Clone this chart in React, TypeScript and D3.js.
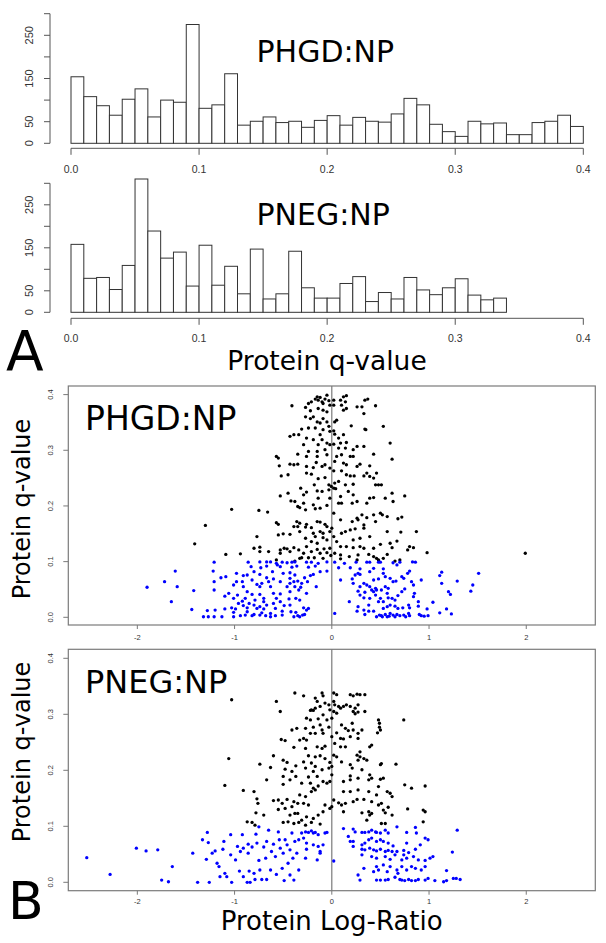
import React from 'react';
import * as d3 from 'd3';

// ---------- DATA ----------
const binWidth = 0.01;
const phgdCounts = [154,108,87,65,102,126,61,100,95,275,81,89,161,42,51,61,48,51,37,53,64,42,60,51,49,68,104,89,44,27,16,51,45,47,20,20,48,51,65,39];
const pnegCounts = [158,79,81,53,109,310,189,126,140,61,156,63,107,43,147,31,43,142,57,33,33,67,83,25,46,31,81,52,41,57,78,40,29,33];
const histXTicks = [0, 0.1, 0.2, 0.3, 0.4];
const histYTicks = [0, 50, 100, 150, 200, 250, 300];
const histYLabelTicks = [0, 50, 150, 250];
const scatterXTicks = [-2, -1, 0, 1, 2];
const scatterYTicks = [0, 0.1, 0.2, 0.3, 0.4];
const qThreshold = 0.1;

// [log-ratio, q-value]
const phgdPoints: [number, number][] = [
  [-0.41,.380],[-0.27,.377],[-0.24,.384],[-0.21,.387],[-0.17,.392],[-0.15,.396],[-0.14,.390],[-0.12,.395],[-0.10,.387],[-0.09,.384],[-0.07,.392],[-0.05,.399],[-0.03,.389],[-0.02,.381],[-0.14,.375],[-0.09,.372],[-0.05,.369],[-0.22,.371],
  [-0.27,.360],[-0.22,.357],[-0.19,.360],[-0.15,.351],[-0.12,.349],[-0.09,.357],[-0.05,.351],[-0.24,.340],[-0.31,.338],[-0.17,.340],[-0.09,.337],[-0.03,.343],[-0.02,.334],[-0.39,.328],[-0.43,.325],[-0.34,.328],[-0.12,.328],
  [-0.26,.322],[-0.19,.319],[-0.10,.319],[-0.05,.313],[-0.14,.310],[-0.02,.310],[-0.07,.301],[-0.15,.298],[-0.24,.298],[-0.29,.310],
  [-0.57,.289],[-0.55,.286],[-0.35,.293],[-0.26,.289],[-0.15,.289],[-0.05,.292],
  [-0.54,.272],[-0.43,.275],[-0.39,.274],[-0.35,.275],[-0.26,.271],[-0.19,.269],[-0.10,.271],[-0.16,.278],[-0.07,.274],[-0.02,.268],
  [-0.52,.254],[-0.45,.256],[-0.26,.259],[-0.21,.257],[-0.14,.249],[-0.07,.251],[-0.03,.238],[-0.005,.235],
  [-0.32,.232],[-0.26,.225],[-0.18,.238],[-0.15,.227],[-0.10,.226],[-0.03,.229],[-0.29,.220],[-0.14,.214],[-0.02,.214],
  [-0.53,.218],[-0.45,.223],[-0.42,.209],[-0.38,.208],[-0.35,.199],[-0.29,.205],[-0.19,.202],[-0.17,.195],[-0.12,.196],[-0.05,.201],[-0.27,.193],[-0.75,.192],[-0.66,.189],[-1.03,.194],[-0.33,.197],
  [-0.57,.170],[-0.55,.167],[-0.36,.172],[-0.33,.169],[-0.26,.167],[-0.15,.172],[-0.12,.171],[-0.07,.167],[-0.05,.163],[-0.39,.163],[-0.35,.163],[-0.27,.162],[-0.21,.161],[-0.12,.154],[-0.33,.154],[-0.19,.151],[-0.09,.151],[-0.02,.154],[-1.30,.165],
  [-0.77,.145],[-0.55,.148],[-0.50,.150],[-0.43,.149],[-0.27,.142],[-0.17,.145],[-0.09,.143],[-0.05,.139],[-0.21,.136],[-0.15,.133],[-1.41,.132],
  [-0.80,.124],[-0.74,.126],[-0.53,.121],[-0.49,.124],[-0.46,.123],[-0.39,.125],[-0.26,.127],[-0.34,.121],[-0.15,.122],[-0.08,.123],[-0.02,.124],[-0.94,.114],[-1.09,.113],[-0.74,.118],[-0.65,.118],[-0.53,.115],[-0.43,.118],[-0.29,.115],[-0.21,.118],[-0.12,.115],[-0.05,.116],
  [-0.33,.106],[-0.31,.107],[-0.24,.107],[-0.18,.107],[-0.09,.106],[-0.01,.111],[-0.57,.103],[-0.38,.101],
  [0.02,.390],[0.12,.396],[0.15,.398],[0.09,.390],[0.14,.387],[0.10,.381],[0.15,.375],[0.12,.372],[0.26,.378],[0.31,.378],[0.34,.390],[0.37,.392],[0.45,.380],[0.33,.366],[0.02,.381],
  [0.03,.351],[0.05,.354],[0.20,.344],[0.34,.338],[0.35,.337],[0.53,.343],[0.02,.335],
  [0.03,.329],[0.12,.328],[0.07,.322],[0.02,.311],[0.09,.313],[0.15,.314],[0.26,.307],[0.33,.307],[0.60,.313],[0.07,.304],[0.14,.304],[0.22,.301],
  [0.10,.292],[0.43,.293],[0.62,.284],[0.05,.289],[0.19,.289],[0.22,.289],[0.03,.280],[0.12,.277],[0.15,.274],[0.26,.271],[0.29,.275],[0.39,.272],
  [0.02,.263],[0.10,.263],[0.15,.256],[0.19,.254],[0.23,.254],[0.33,.254],[0.36,.259],[0.39,.253],[0.46,.259],[0.43,.250],[0.03,.241],[0.07,.244],[0.14,.238],[0.22,.239],[0.45,.238],[0.48,.238],[0.51,.238],
  [0.02,.232],[0.04,.231],[0.17,.226],[0.22,.220],[0.21,.205],[0.26,.208],[0.09,.217],[0.10,.205],[0.39,.214],[0.43,.215],[0.55,.214],[0.62,.223],[0.63,.208],[0.75,.218],[0.36,.205],[0.07,.205],
  [0.31,.184],[0.36,.179],[0.43,.184],[0.50,.187],[0.52,.184],[0.57,.181],[0.26,.178],[0.27,.175],[0.33,.166],[0.45,.172],[0.68,.177],[0.72,.180],[0.09,.175],[0.21,.172],[0.00,.160],[0.02,.187],
  [0.14,.154],[0.19,.157],[0.24,.159],[0.33,.160],[0.57,.154],[0.71,.153],[0.87,.154],[0.10,.151],[0.39,.145],[0.29,.142],[0.02,.145],[0.22,.139],
  [0.05,.136],[0.50,.131],[0.60,.133],[0.67,.137],[0.09,.127],[0.15,.127],[0.22,.125],[0.29,.127],[0.33,.124],[0.43,.124],[0.62,.125],[0.80,.127],[0.84,.125],[0.78,.121],[0.98,.116],
  [0.03,.115],[0.09,.112],[0.18,.109],[0.27,.112],[0.38,.113],[0.43,.109],[0.46,.106],[0.48,.103],[0.57,.113],[0.53,.106],[0.65,.101],[0.70,.103],[0.26,.103],[0.09,.105],[1.99,.115],
  [-1.21,.099],[-0.86,.099],[-0.74,.0995],[-0.67,.0995],[-0.63,.0995],[-0.57,.097],[-0.51,.099],[-0.46,.098],[-0.41,.099],[-0.38,.0995],[-0.26,.099],[-0.21,.099],[-0.14,.097],[-0.05,.0995],
  [-0.83,.091],[-0.73,.089],[-0.67,.092],[-0.56,.094],[-0.53,.091],[-0.41,.090],[-0.36,.092],[-0.24,.090],[-0.17,.092],
  [-1.61,.083],[-1.22,.083],[-0.98,.079],[-0.91,.075],[-0.87,.076],[-0.80,.082],[-0.74,.077],[-0.61,.082],[-0.50,.079],[-0.43,.080],[-0.38,.076],[-0.22,.075],[-0.19,.077],[-0.12,.082],[-0.05,.083],[-0.67,.071],[-0.43,.070],[-0.28,.071],[-0.60,.069],
  [-1.72,.064],[-1.14,.071],[-1.09,.073],[-1.21,.064],[-0.98,.064],[-0.92,.064],[-0.82,.067],[-0.77,.059],[-0.72,.061],[-0.65,.064],[-0.53,.064],[-0.43,.061],[-0.39,.064],[-0.35,.065],[-0.31,.061],[-0.25,.064],[-0.16,.055],[-1.59,.055],[-1.90,.054],[-1.42,.048],[-1.01,.058],[-0.91,.055],[-0.74,.055],[-0.63,.055],[-0.46,.055],[-0.38,.055],[-0.32,.054],
  [-1.21,.049],[-1.06,.043],[-0.97,.040],[-0.87,.046],[-0.82,.041],[-0.74,.041],[-0.60,.043],[-0.53,.042],[-0.43,.046],[-0.34,.049],[-0.26,.043],[-1.10,.038],[-1.01,.034],[-0.89,.034],[-0.79,.031],[-0.70,.034],[-0.57,.034],[-0.44,.033],[-0.37,.034],[-0.33,.031],[-0.70,.028],[-0.92,.029],[-1.65,.028],
  [-0.96,.025],[-0.91,.021],[-0.85,.025],[-0.80,.022],[-0.74,.019],[-0.67,.022],[-0.60,.025],[-0.53,.028],[-0.49,.021],[-0.43,.022],[-0.29,.017],[-0.24,.016],[-1.03,.017],[-0.99,.015],[-0.87,.017],[-0.77,.016],[-0.70,.015],[-0.58,.016],[-1.44,.014],[-1.28,.012],[-1.20,.013],[-1.10,.015],[-0.26,.013],
  [-1.32,.001],[-1.27,.001],[-1.21,.001],[-1.13,.001],[-1.01,.001],[-0.94,.003],[-0.89,.004],[-0.82,.003],[-0.80,.005],[-0.74,.004],[-0.68,.003],[-0.63,.001],[-0.58,.003],[-0.51,.004],[-0.39,.001],[-0.35,.003],[-0.30,.004],[-0.28,.005],[-0.33,.001],[-1.01,.009],[-0.87,.010],[-0.72,.008],[-0.63,.007],[-0.51,.011],[-0.42,.010],[-0.37,.009],
  [0.03,.099],[0.13,.097],[0.25,.099],[0.36,.099],[0.39,.099],[0.48,.099],[0.50,.099],[0.63,.098],[0.67,.094],[0.70,.099],[0.83,.0995],[0.86,.099],
  [0.07,.089],[0.19,.089],[0.29,.087],[0.43,.088],[0.53,.087],[0.80,.083],[0.78,.079],[1.13,.081],[1.11,.075],[1.51,.079],[0.27,.079],[0.29,.077],[0.24,.076],[0.39,.082],[0.53,.079],[0.72,.073],[0.74,.070],[0.55,.073],[0.60,.070],
  [0.09,.067],[0.21,.069],[0.43,.067],[0.48,.069],[0.63,.064],[0.66,.065],[0.82,.064],[0.84,.058],[0.92,.067],[1.29,.065],[1.13,.061],[1.45,.058],[0.33,.061],[0.36,.058],[0.29,.055],[0.39,.055],[0.45,.052],[0.55,.055],[0.58,.052],[0.75,.051],[0.22,.061],
  [0.27,.047],[0.34,.045],[0.41,.049],[0.43,.046],[0.46,.049],[0.51,.049],[0.57,.043],[0.72,.046],[0.85,.043],[1.20,.046],[1.43,.047],[1.22,.041],[0.29,.040],[0.33,.035],[0.45,.040],[0.58,.035],[0.62,.034],[0.68,.039],[0.84,.037],[0.39,.034],[0.50,.034],[0.65,.031],
  [0.18,.028],[0.27,.019],[0.38,.022],[0.48,.028],[0.53,.028],[0.57,.019],[0.60,.022],[0.65,.020],[0.68,.016],[0.79,.022],[0.80,.017],[0.89,.028],[0.89,.020],[0.98,.015],[1.04,.027],[1.18,.015],[0.26,.011],[0.33,.013],[0.38,.011],[0.43,.011],[0.53,.016],[0.73,.017],
  [0.03,.007],[0.34,.005],[0.46,.001],[0.49,.004],[0.51,.003],[0.55,.005],[0.57,.001],[0.60,.007],[0.63,.004],[0.67,.005],[0.70,.003],[0.74,.004],[0.76,.001],[0.79,.007],[0.80,.003],[0.90,.005],[0.92,.003],[0.95,.002],[0.99,.003],[1.11,.008],[1.23,.006],[0.59,.002],[0.65,.001],[0.52,.001],
];

const pnegPoints: [number, number][] = [
  [-1.03,.326],[-0.57,.323],[-0.53,.305],[-0.38,.338],[-0.41,.272],[-0.36,.275],[-0.52,.255],[-0.48,.253],[-0.39,.241],[-0.60,.226],[-1.06,.221],[-0.50,.218],[-0.46,.214],[-0.74,.211],[-0.63,.205],[-0.48,.202],[-0.41,.198],[-0.37,.208],
  [-0.67,.183],[-0.50,.189],[-0.43,.183],[-0.37,.189],[-1.10,.173],[-0.91,.164],[-0.80,.162],[-0.50,.175],[-0.77,.149],[-0.76,.141],[-0.60,.146],[-0.55,.147],[-0.51,.141],[-0.46,.148],[-0.39,.144],[-0.35,.141],
  [-0.55,.130],[-0.48,.132],[-0.41,.135],[-0.35,.123],[-0.78,.124],[-0.70,.120],[-0.43,.120],[-0.38,.123],[-0.87,.108],[-0.82,.107],[-0.50,.107],[-0.45,.108],[-0.39,.105],[-0.34,.107],[-0.79,.102],
  [-0.29,.333],[-0.17,.329],[-0.10,.338],[-0.09,.333],[0.02,.338],[0.05,.335],[0.19,.335],[0.22,.333],[0.26,.336],[0.29,.335],[0.34,.335],
  [-0.15,.323],[-0.07,.320],[-0.03,.317],[0.02,.323],[0.03,.317],[0.07,.314],[0.09,.311],[0.12,.314],[0.15,.317],[0.19,.314],[0.24,.311],[0.27,.317],[-0.12,.314],[-0.21,.308],[-0.17,.311],[-0.02,.308],
  [-0.22,.307],[-0.19,.307],[0.02,.305],[0.05,.302],[0.22,.305],[0.24,.301],[0.27,.304],[0.34,.305],[-0.09,.299],[0.00,.293],[-0.05,.290],[-0.14,.292],[-0.22,.290],[-0.26,.293],
  [0.48,.290],[0.49,.284],[0.49,.277],[0.50,.272],[0.47,.267],[0.74,.290],
  [-0.27,.275],[-0.19,.277],[-0.12,.281],[-0.10,.272],[-0.03,.277],[0.10,.281],[0.14,.275],[0.17,.271],[0.21,.284],[0.22,.272],[0.27,.266],[0.31,.272],
  [-0.22,.266],[-0.17,.266],[-0.09,.266],[0.00,.260],[0.05,.267],[0.09,.257],[0.12,.256],[0.19,.260],[0.27,.257],[-0.26,.254],[-0.29,.257],
  [-0.15,.242],[-0.10,.239],[-0.07,.243],[0.09,.242],[0.14,.242],[0.03,.248],[0.39,.242],[0.41,.245],[-0.33,.254],[-0.27,.239],[0.29,.233],
  [-0.24,.226],[-0.17,.224],[-0.12,.226],[-0.07,.221],[0.02,.227],[0.05,.224],[0.26,.227],[0.29,.224],[0.33,.221],[0.27,.218],[0.36,.218],[0.50,.210],[0.51,.212],[0.66,.211],[-0.29,.215],[-0.21,.213],[-0.02,.214],[0.10,.215],
  [-0.27,.204],[-0.17,.207],[-0.10,.201],[-0.03,.204],[0.00,.207],[0.19,.210],[0.21,.204],[0.31,.201],[0.39,.192],[-0.19,.198],[-0.15,.189],[-0.24,.188],[0.00,.192],[0.19,.190],
  [-0.09,.180],[-0.05,.177],[-0.02,.180],[0.12,.180],[0.19,.183],[0.27,.186],[0.38,.183],[0.41,.186],[0.50,.184],[0.53,.186],[0.48,.171],[0.75,.174],[0.82,.168],[0.96,.172],[-0.19,.168],[-0.22,.177],[-0.31,.177],[-0.14,.172],
  [-0.21,.162],[-0.17,.165],[0.12,.162],[0.19,.162],[0.27,.165],[0.38,.162],[0.46,.156],[0.57,.162],[0.60,.159],[0.62,.153],[-0.33,.156],[-0.27,.153],[0.02,.147],[0.07,.142],[0.26,.148],
  [-0.29,.141],[-0.24,.138],[-0.07,.138],[0.00,.135],[0.10,.138],[0.14,.141],[0.22,.144],[0.33,.148],[0.48,.138],[0.51,.141],[0.58,.134],[0.41,.144],[0.78,.131],
  [-0.14,.120],[-0.09,.126],[-0.02,.132],[0.12,.126],[0.31,.124],[0.38,.126],[0.41,.123],[0.39,.120],[0.53,.129],[0.55,.124],[0.62,.120],[0.94,.129],[0.96,.126],[-0.19,.114],[-0.26,.117],[-0.31,.111],[0.36,.111],
  [0.51,.105],[0.55,.105],[0.94,.108],[-0.21,.107],[-0.12,.104],[-0.27,.102],
  [-2.52,.044],[-2.28,.014],[-2.01,.061],[-1.91,.056],[-1.79,.058],[-1.75,.004],[-1.68,.001],[-1.64,.028],[-1.43,.052],[-1.38,.000],[-1.33,.076],[-1.28,.089],[-1.27,.071],[-1.29,.041],[-1.26,.000],[-1.23,.052],[-1.20,.056],[-1.18,.034],[-1.16,.028],[-1.15,.010],[-1.12,.059],[-1.11,.073],[-1.10,.016],[-1.08,.010],
  [-1.04,.085],[-1.04,.049],[-1.03,.000],[-0.99,.040],[-0.97,.064],[-0.94,.055],[-0.95,.020],[-0.92,.085],[-0.91,.010],[-0.91,.061],[-0.87,.000],[-0.86,.052],[-0.86,.068],[-0.85,.020],[-0.84,.000],[-0.82,.063],[-0.80,.016],[-0.79,.005],[-0.78,.086],[-0.77,.070],[-0.75,.099],[-0.75,.039],[-0.74,.022],[-0.72,.005],
  [-0.70,.063],[-0.68,.043],[-0.67,.073],[-0.67,.005],[-0.65,.093],[-0.63,.022],[-0.62,.055],[-0.60,.068],[-0.58,.046],[-0.57,.014],[-0.55,.090],[-0.54,.076],[-0.53,.061],[-0.51,.025],[-0.50,.052],[-0.49,.003],[-0.48,.076],[-0.46,.067],[-0.45,.034],[-0.43,.013],[-0.43,.058],[-0.41,.088],[-0.40,.043],[-0.39,.004],[-0.38,.073],[-0.36,.052],[-0.34,.076],[-0.34,.022],
  [-0.31,.088],[-0.27,.090],[-0.24,.089],[-0.21,.092],[-0.19,.088],[-0.17,.089],[-0.14,.085],[-0.07,.088],[-0.05,.089],[0.12,.096],[0.22,.095],[0.24,.090],[0.31,.089],[0.34,.089],[0.38,.090],[0.41,.093],[0.45,.090],[0.46,.089],[0.50,.088],[0.55,.093],[0.58,.088],[0.67,.099],[0.77,.089],[0.86,.098],[0.87,.088],[0.96,.079],[0.99,.076],[1.29,.093],
  [-0.29,.079],[-0.26,.070],[-0.19,.067],[-0.14,.064],[-0.12,.052],[-0.09,.067],[0.17,.082],[0.19,.073],[0.22,.073],[0.31,.067],[0.34,.070],[0.38,.076],[0.41,.079],[0.46,.073],[0.50,.076],[0.53,.073],[0.58,.070],[0.63,.065],[0.77,.070],[0.91,.067],[0.86,.059],
  [0.31,.059],[0.34,.058],[0.39,.061],[0.43,.058],[0.46,.056],[0.50,.059],[0.55,.055],[0.58,.057],[0.62,.055],[0.67,.055],[0.74,.057],[0.79,.053],[0.22,.064],[1.24,.054],[-0.15,.040],[0.02,.038],[-0.27,.043],[-0.26,.059],[-0.12,.055],
  [0.31,.049],[0.41,.046],[0.46,.043],[0.55,.046],[0.60,.041],[0.65,.049],[0.72,.040],[0.77,.043],[0.84,.046],[0.89,.040],[0.96,.039],[1.01,.043],[1.04,.046],[0.74,.049],
  [0.33,.025],[0.46,.028],[0.48,.022],[0.53,.031],[0.60,.028],[0.67,.022],[0.72,.028],[0.77,.022],[0.82,.028],[0.86,.025],[0.92,.022],[0.96,.028],[1.18,.021],[0.43,.019],[0.57,.019],[0.27,.013],[0.68,.016],
  [0.29,.004],[0.46,.004],[0.50,.004],[0.55,.004],[0.58,.005],[0.65,.009],[0.70,.005],[0.72,.004],[0.75,.003],[0.79,.005],[0.82,.003],[0.86,.003],[0.89,.005],[0.96,.004],[0.99,.007],[1.06,.003],[1.15,.001],[1.18,.003],[1.25,.007],[1.28,.007],[1.32,.005],
];

// ---------- COMPONENTS ----------
const TITLE_FONT = '"DejaVu Sans", Verdana, sans-serif';
const TICK_FONT = '"Liberation Sans", Arial, Helvetica, sans-serif';

function Histogram({ counts, yZero, yTop, axisY, tickLabelY, title, titleY }: any) {
  const x = d3.scaleLinear().domain([0, 0.4]).range([71, 583.3]);
  const y = d3.scaleLinear().domain([0, 300]).range([yZero, yTop]);
  const axisX = 50;
  return (
    <g>
      {counts.map((c: number, i: number) => (
        <rect key={i} x={x(i * binWidth)} y={y(c)} width={x((i + 1) * binWidth) - x(i * binWidth)} height={y(0) - y(c)}
          fill="#fff" stroke="#333" strokeWidth={1} />
      ))}
      <line x1={x(0)} x2={x(0.4)} y1={axisY} y2={axisY} stroke="#555" strokeWidth={1} />
      {histXTicks.map(t => (
        <g key={t}>
          <line x1={x(t)} x2={x(t)} y1={axisY} y2={axisY + 6.5} stroke="#555" strokeWidth={1} />
          <text x={x(t)} y={tickLabelY} textAnchor="middle" fontFamily={TICK_FONT} fontSize={10.5} fill="#333">{t.toFixed(1)}</text>
        </g>
      ))}
      <line x1={axisX} x2={axisX} y1={y(0)} y2={y(300)} stroke="#555" strokeWidth={1} />
      {histYTicks.map(t => (
        <line key={t} x1={axisX - 6} x2={axisX} y1={y(t)} y2={y(t)} stroke="#555" strokeWidth={1} />
      ))}
      {histYLabelTicks.map(t => (
        <text key={t} transform={`translate(33,${y(t)}) rotate(-90)`} textAnchor="middle" fontFamily={TICK_FONT} fontSize={11} fill="#333">{t}</text>
      ))}
      <text x={256.5} y={titleY} fontFamily={TITLE_FONT} fontSize={30} fill="#000">{title}</text>
    </g>
  );
}

function Scatter({ points, top, bottom, yZero, yFour, tickLabelY, title, titleY, titleSize, labelCenterY }: any) {
  const x = d3.scaleLinear().domain([-2.71, 2.71]).range([68.3, 595.3]);
  const y = d3.scaleLinear().domain([0, 0.4]).range([yZero, yFour]);
  return (
    <g>
      <rect x={x(-2.71)} y={top} width={x(2.71) - x(-2.71)} height={bottom - top} fill="none" stroke="#7a7a7a" strokeWidth={1.2} />
      <line x1={x(0)} x2={x(0)} y1={top} y2={bottom} stroke="#7a7a7a" strokeWidth={1.2} />
      {scatterXTicks.map(t => (
        <g key={t}>
          <line x1={x(t)} x2={x(t)} y1={bottom} y2={bottom + 4} stroke="#7a7a7a" strokeWidth={1} />
          <text x={x(t)} y={tickLabelY} textAnchor="middle" fontFamily={TICK_FONT} fontSize={7.5} fill="#333">{t}</text>
        </g>
      ))}
      {scatterYTicks.map(t => (
        <g key={t}>
          <line x1={x(-2.71) - 5} x2={x(-2.71)} y1={y(t)} y2={y(t)} stroke="#7a7a7a" strokeWidth={1} />
          <text transform={`translate(53,${y(t)}) rotate(-90)`} textAnchor="middle" fontFamily={TICK_FONT} fontSize={7.5} fill="#333">{t.toFixed(1)}</text>
        </g>
      ))}
      {points.map((p: [number, number], i: number) => (
        <circle key={i} cx={x(p[0])} cy={y(p[1])} r={1.65} fill={p[1] < qThreshold ? '#0000ff' : '#000'} />
      ))}
      <text x={85} y={titleY} fontFamily={TITLE_FONT} fontSize={titleSize} fill="#000">{title}</text>
      <text transform={`translate(30,${labelCenterY}) rotate(-90)`} textAnchor="middle" fontFamily={TITLE_FONT} fontSize={24} fill="#000">Protein q-value</text>
    </g>
  );
}

export default function App() {
  return (
    <svg width={606} height={943} style={{ position: 'absolute', left: 0, top: 0, background: '#fff' }}>
      <rect x={0} y={0} width={606} height={943} fill="#fff" />
      <Histogram counts={phgdCounts} yZero={143.3} yTop={13.7} axisY={148.3} tickLabelY={173} title="PHGD:NP" titleY={61.5} />
      <Histogram counts={pnegCounts} yZero={312.3} yTop={183.3} axisY={318.3} tickLabelY={341.5} title="PNEG:NP" titleY={225} />
      <text x={6} y={370} fontFamily={TITLE_FONT} fontSize={55} fill="#000">A</text>
      <text x={327} y={370} textAnchor="middle" fontFamily={TITLE_FONT} fontSize={26.5} fill="#000">Protein q-value</text>
      <Scatter points={phgdPoints} top={386} bottom={625} yZero={617.3} yFour={394.6} tickLabelY={640}
        title="PHGD:NP" titleY={430} titleSize={33} labelCenterY={509} />
      <Scatter points={pnegPoints} top={649.3} bottom={890.7} yZero={882.3} yFour={658.3} tickLabelY={904}
        title="PNEG:NP" titleY={693} titleSize={32} labelCenterY={752} />
      <text x={8} y={919} fontFamily={TITLE_FONT} fontSize={52} fill="#000">B</text>
      <text x={331.7} y={930} textAnchor="middle" fontFamily={TITLE_FONT} fontSize={26} fill="#000">Protein Log-Ratio</text>
    </svg>
  );
}
